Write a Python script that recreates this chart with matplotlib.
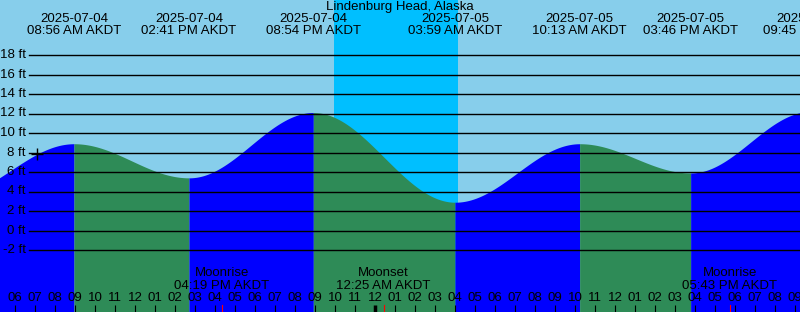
import numpy as np
import matplotlib.pyplot as plt

plt.rcParams['font.family'] = ['Liberation Sans', 'DejaVu Sans']

title = 'Lindenburg Head, Alaska'

# tide extremes, hours from 2025-07-04 00:00 AKDT (first low is off the chart)
tide_hours = [2.67, 8.933, 14.683, 20.9, 27.983, 34.217, 39.767, 45.75]
tide_feet = [3.5, 8.9, 5.4, 12.1, 2.9, 8.9, 5.9, 12.2]
tide_dates = [None, '2025-07-04', '2025-07-04', '2025-07-04',
              '2025-07-05', '2025-07-05', '2025-07-05', '2025-07-05']
tide_times = [None, '08:56 AM AKDT', '02:41 PM AKDT', '08:54 PM AKDT',
              '03:59 AM AKDT', '10:13 AM AKDT', '03:46 PM AKDT', '09:45 PM AKDT']

# sunset / sunrise
night_start, night_end = 21.93, 28.12

# moon events
moon_hours = [16.317, 24.417, 41.717]
moon_names = ['Moonrise', 'Moonset', 'Moonrise']
moon_times = ['04:19 PM AKDT', '12:25 AM AKDT', '05:43 PM AKDT']

now_hour = 7.08
feet_levels = list(range(-2, 20, 2))
hour_ticks = list(range(6, 46))

# pixel layout helpers (800x312, 20 px per hour, 9.75 px per ft)
x0 = 5.235
x1 = x0 + 40
def ypx(p):
    return (230.5 - p) / 9.75
y_bot, y_top = ypx(312), ypx(0)
fs = 9.5

fig = plt.figure(figsize=(8, 3.12), dpi=100, facecolor='#87CEEB')
ax = fig.add_axes([0, 0, 1, 1])
ax.set_axis_off()
ax.set_xlim(x0, x1)
ax.set_ylim(y_bot, y_top)

ax.axvspan(night_start, night_end, color='#00BFFF', lw=0, zorder=0)

def tide_at(t):
    for i in range(len(tide_hours) - 1):
        a, b = tide_hours[i], tide_hours[i + 1]
        if a <= t <= b:
            ha, hb = tide_feet[i], tide_feet[i + 1]
            return ha + (hb - ha) * (1 - np.cos(np.pi * (t - a) / (b - a))) / 2
    return np.nan

for i in range(len(tide_hours) - 1):
    a, b = tide_hours[i], tide_hours[i + 1]
    t = np.linspace(a, b, 300)
    h = np.array([tide_at(v) for v in t])
    col = '#0000FF' if tide_feet[i + 1] > tide_feet[i] else '#2E8B57'
    ax.fill_between(t, h, y_bot, color=col, lw=0, zorder=1)

# depth lines
for lv in feet_levels:
    ax.plot([x0 + 29 / 20, x1], [lv, lv], color='black', lw=1, zorder=2)
    ax.text(x0 + 26 / 20, lv, f'{lv} ft', ha='right', va='center',
            fontsize=fs, zorder=3)

ax.plot(now_hour, tide_at(now_hour), marker='+', color='black',
        markersize=8, mew=1, zorder=4)

ax.text((x0 + x1) / 2, ypx(7), title, ha='center', va='center', fontsize=fs)
for t, d, s in zip(tide_hours, tide_dates, tide_times):
    if d is None:
        continue
    ax.text(t, ypx(19), d, ha='center', va='center', fontsize=fs)
    ax.text(t, ypx(31), s, ha='center', va='center', fontsize=fs)

for t, n, s in zip(moon_hours, moon_names, moon_times):
    ax.text(t, ypx(273), n, ha='center', va='center', fontsize=fs, zorder=3)
    ax.text(t, ypx(286), s, ha='center', va='center', fontsize=fs, zorder=3)
    ax.plot([t, t], [ypx(305), y_bot], color='red', lw=0.8, zorder=3)

for hr in hour_ticks:
    h12 = hr % 12 or 12
    ax.text(hr, ypx(298), f'{h12:02d}', ha='center', va='center',
            fontsize=fs, zorder=3)
    w = 2.5 if hr % 24 == 0 else 0.8
    ax.plot([hr, hr], [ypx(305), y_bot], color='black', lw=w, zorder=3,
            solid_capstyle='butt')

fig.savefig('out.png', dpi=100)
